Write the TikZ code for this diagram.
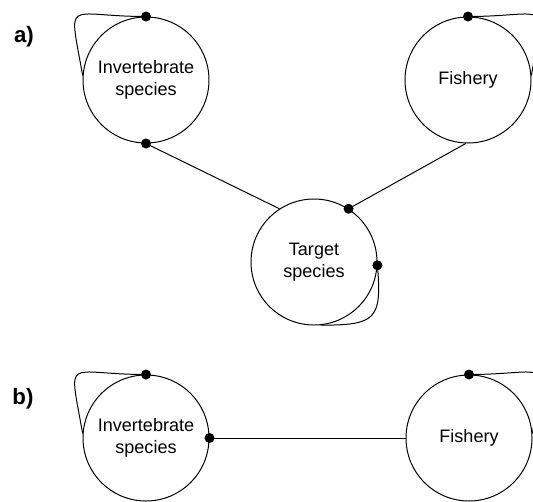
\documentclass[tikz,border=0pt]{standalone}
\usepackage{fontspec}
\setmainfont{Liberation Sans}
\usetikzlibrary{positioning}

\begin{document}
\begin{tikzpicture}
[
  species/.style={circle,draw,line width=0.85pt,minimum size=3.78cm,inner sep=0pt,align=center},
  dot/.style={circle,fill,inner sep=0pt,minimum size=0.3cm},
  panel/.style={font=\fontsize{19}{22}\selectfont\bfseries},
  node distance=2cm,
  on grid,
  font=\fontsize{15.4}{19}\selectfont,
  line width=0.85pt
]
 \useasboundingbox (-4.38,2.4) rectangle (11.61,-12.63);

 % a)
 \node[species] (inv) {Invertebrate\\species};
 \node[species] (fish) [right=9.66cm of inv] {Fishery};
 \node[species] (tgt) [below right=5.46cm and 5.04cm of inv] {Target\\species};
 \node[panel] (la) [above left=1.29cm and 3.66cm of inv] {a)};

  \path
    (inv.north) edge [out=180,in=100,looseness=2.4] (inv.176)
    (fish.north) edge [out=0,in=80,looseness=2.4] (fish.4)
    (tgt.-3) edge [out=-85,in=0,looseness=1.7] (tgt.-84)
    (inv.south) edge (tgt.123)
    (fish.-92) edge (tgt.57);

 \node[dot] (d1) at (inv.north) {};
 \node[dot] (d2) at (inv.south) {};
 \node[dot] (d3) at (fish.north) {};
 \node[dot] (d4) at (tgt.57) {};
 \node[dot] (d5) at (tgt.-3) {};

 % b)
 \node[species] (invb) [below=10.74cm of inv] {Invertebrate\\species};
 \node[species] (fishb) [right=9.69cm of invb] {Fishery};
 \node[panel] (lb) [above left=1.17cm and 3.69cm of invb] {b)};

  \path
    (invb.north) edge [out=180,in=100,looseness=2.4] (invb.176)
    (fishb.north) edge [out=0,in=80,looseness=2.4] (fishb.4)
    (invb.east) edge (fishb.west);

 \node[dot] (d6) at (invb.north) {};
 \node[dot] (d7) at (invb.east) {};
 \node[dot] (d8) at (fishb.north) {};
\end{tikzpicture}
\end{document}
